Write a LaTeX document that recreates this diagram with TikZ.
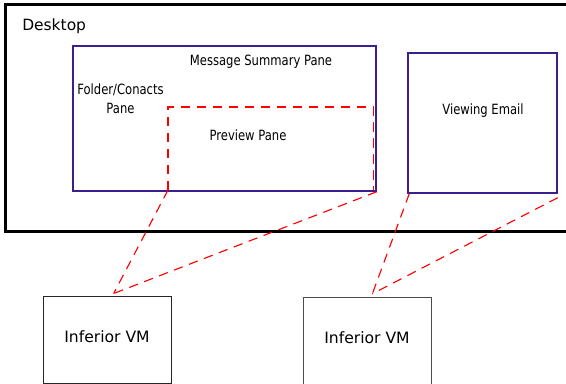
\documentclass[tikz,border=0pt]{standalone}
\usepackage{fontspec}
\setmainfont{DejaVu Sans}
\newfontfamily\panefont[FakeStretch=0.82]{DejaVu Sans}
\usetikzlibrary{positioning, calc}
\definecolor{paneblue}{HTML}{3B1F8F}
\definecolor{linkred}{HTML}{FF0000}

\begin{document}
\begin{tikzpicture}[
      x=0.75pt, y=-0.75pt,
      every node/.style={inner sep=0pt},
      pane/.style={draw=paneblue, line width=1.1pt, minimum width=#1},
      vmbox/.style={draw=black!85, line width=0.75pt, minimum width=96pt, minimum height=65.25pt, text depth=4.5pt, font=\fontsize{11.7}{14}\selectfont},
      lbl/.style={font=\panefont\fontsize{10.6}{14}\selectfont, align=center},
      link/.style={draw=linkred, line width=0.85pt, dash pattern=on 7pt off 5pt},
    ]
    \useasboundingbox (0,0) rectangle (566,384);

    % desktop
    \node[draw, line width=2.25pt, minimum width=423.75pt, minimum height=170.25pt] (desk) at (287.5,118.5) {};
    \node[anchor=west, font=\fontsize{11.6}{14}\selectfont] (desklbl) at (22,26.5) {Desktop};

    % mail client
    \node[pane=227.25pt, minimum height=108.75pt] (main) at (224.5,118.5) {};
    \node[lbl] (msglbl) at (261,62) {Message Summary Pane};
    \node[lbl] (folderlbl) at (120.5,98.5) {Folder/Conacts\\Pane};
    \coordinate (pvbl) at (168,190);
    \coordinate (pvtr) at (373.5,107);
    \draw[link] (pvbl) |- (pvtr) -- (pvtr |- pvbl);
    \node[lbl] (pvlbl) at (248,135.5) {Preview Pane};

    % viewer
    \node[pane=111.75pt, minimum height=105pt] (view) at (482.5,123) {};
    \node[lbl] (viewlbl) at (483,111) {Viewing Email};

    % vms
    \node[vmbox] (vmA) at (107,339.5) {Inferior VM};
    \node[vmbox, draw=black!70] (vmB) at (367,340.5) {Inferior VM};

    \draw[link] (pvbl) -- ([xshift=5pt,yshift=1.5pt]vmA.north);
    \draw[link] (main.south east) -- ([xshift=5pt,yshift=1.5pt]vmA.north);
    \draw[link] ([xshift=1.5pt]view.south west) -- ([xshift=4pt,yshift=2pt]vmB.north);
    \draw[link] ([yshift=-3pt]view.south east) -- ([xshift=4pt,yshift=2pt]vmB.north);
  \end{tikzpicture}
\end{document}
